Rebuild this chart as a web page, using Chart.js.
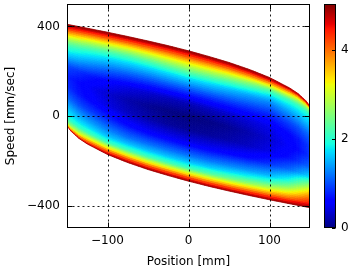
<!DOCTYPE html>
<html><head><meta charset="utf-8">
<script src="https://cdn.jsdelivr.net/npm/chart.js@4/dist/chart.umd.min.js"></script>
<style>html,body{margin:0;padding:0;background:#fff;}</style>
</head><body>
<canvas id="c" width="352" height="273"></canvas>
<script>
// Positions (mm) of the mesh columns
const positions = [-150,-145,-135,-125,-100,-75,-50,-25,0,25,50,75,100,125,135,145,150];
// Upper / lower edge of the coloured region (mm/sec) at each position
const upperSpeed = [409,406,399,392,374,355,335,314,291,266,239,208,172,125,101,68,44];
const lowerSpeed = [-44,-68,-101,-125,-172,-208,-239,-266,-291,-314,-335,-355,-374,-392,-399,-406,-409];
// Fractional height between lower (0) and upper (1) edge for mesh rows
const sLevels = [0,0.02,0.05,0.1,0.15,0.2,0.3,0.4,0.5,0.6,0.7,0.8,0.85,0.9,0.95,0.98,1];
// Colour values (one row per position, one value per sLevel)
const fieldValues = [
  [5,3.4,2.4,1.9,1.7,1.5,1.1,0.87,0.8,1.0,1.6,2.2,2.7,3.4,4.2,4.68,5],
  [5,3.7,2.7,2.0,1.75,1.55,1.1,0.82,0.75,0.95,1.55,2.15,2.65,3.35,4.15,4.66,5],
  [5,4.0,3.0,2.1,1.75,1.5,1.02,0.72,0.65,0.85,1.45,2.05,2.55,3.25,4.1,4.63,5],
  [5,4.2,3.3,2.15,1.75,1.45,0.95,0.64,0.56,0.77,1.35,1.95,2.45,3.15,4.05,4.62,5],
  [5,4.4,3.5,2.15,1.6,1.3,0.8,0.45,0.36,0.6,1.15,1.8,2.3,3.05,4.0,4.6,5],
  [5,4.5,3.55,2.2,1.6,1.2,0.65,0.29,0.2,0.45,1.05,1.75,2.25,3.0,3.95,4.58,5],
  [5,4.5,3.55,2.2,1.6,1.2,0.55,0.19,0.09,0.35,1.0,1.75,2.3,3.05,3.98,4.59,5],
  [5,4.5,3.58,2.2,1.6,1.2,0.52,0.12,0.02,0.28,1.0,1.8,2.4,3.12,4.0,4.6,5],
  [5,4.5,3.6,2.2,1.6,1.2,0.5,0.1,0,0.25,0.98,1.82,2.45,3.15,4.02,4.6,5],
  [5,4.5,3.62,2.3,1.65,1.22,0.52,0.12,0.02,0.28,0.95,1.75,2.35,3.08,3.97,4.59,5],
  [5,4.52,3.7,2.45,1.75,1.3,0.58,0.19,0.09,0.33,0.92,1.62,2.18,2.92,3.9,4.56,5],
  [5,4.55,3.8,2.65,1.9,1.4,0.67,0.29,0.2,0.4,0.86,1.46,1.98,2.68,3.78,4.52,5],
  [5,4.6,3.9,2.9,2.1,1.55,0.85,0.45,0.36,0.47,0.8,1.3,1.7,2.3,3.55,4.45,5],
  [5,4.65,4.05,3.3,2.6,2.0,1.15,0.7,0.56,0.64,0.95,1.45,1.75,2.15,3.3,4.2,5],
  [5,4.7,4.2,3.55,2.95,2.35,1.35,0.85,0.65,0.72,1.02,1.5,1.75,2.1,3.0,4.0,5],
  [5,4.75,4.35,3.85,3.3,2.7,1.6,1.05,0.8,0.85,1.1,1.55,1.75,2.0,2.7,3.7,5],
  [5,4.8,4.45,4.0,3.55,3.0,1.75,1.15,0.9,0.92,1.1,1.5,1.7,1.9,2.4,3.4,5]
];
const xTicks = [-100, 0, 100];
const yTicks = [-400, 0, 400];
const cbTicks = [0, 2, 4];
const cbMin = 0, cbMax = 5.04;

function tab(xs, ys, t){
  for (let k = 0; k < xs.length - 1; k++){
    if (t <= xs[k+1]) return ys[k] + (ys[k+1]-ys[k]) * (t - xs[k]) / (xs[k+1]-xs[k]);
  }
  return ys[ys.length-1];
}
function jet(v){
  let t = (v - cbMin) / (cbMax - cbMin);
  t = Math.max(0, Math.min(1, t));
  const r = tab([0,0.35,0.66,0.89,1],[0,0,1,1,0.5],t);
  const g = tab([0,0.125,0.375,0.64,0.91,1],[0,0,1,1,0,0],t);
  const b = tab([0,0.11,0.34,0.65,1],[0.5,1,1,0,0],t);
  return 'rgb(' + Math.round(r*255) + ',' + Math.round(g*255) + ',' + Math.round(b*255) + ')';
}
const fmt = v => (v < 0 ? '\u2212' + Math.abs(v) : String(v));
const FONT = {family: 'DejaVu Sans', size: 12};
const noPad = s => { s.paddingTop = 0; s.paddingBottom = 0; s.paddingLeft = 0; s.paddingRight = 0; };

const fieldPlugin = {
  id: 'field',
  beforeDatasetsDraw(chart){
    const {ctx, chartArea: a, scales: {x, y}} = chart;
    ctx.save();
    ctx.beginPath(); ctx.rect(a.left, a.top, a.right - a.left, a.bottom - a.top); ctx.clip();
    ctx.lineWidth = 0.8;
    const lerp = (p, q, t) => p + (q - p) * t;
    for (let i = 0; i < positions.length - 1; i++){
      const px0 = x.getPixelForValue(positions[i]), px1 = x.getPixelForValue(positions[i+1]);
      const nx = Math.max(1, Math.ceil(Math.abs(px1 - px0) / 2));
      for (let j = 0; j < sLevels.length - 1; j++){
        const span = Math.max(upperSpeed[i] - lowerSpeed[i], upperSpeed[i+1] - lowerSpeed[i+1]);
        const hpx = Math.abs(y.getPixelForValue(0) - y.getPixelForValue(span * (sLevels[j+1] - sLevels[j])));
        const ns = Math.max(1, Math.ceil(hpx / 2));
        const f00 = fieldValues[i][j], f10 = fieldValues[i+1][j], f01 = fieldValues[i][j+1], f11 = fieldValues[i+1][j+1];
        for (let a1 = 0; a1 < nx; a1++){
          const u0 = a1 / nx, u1 = (a1 + 1) / nx, uc = (u0 + u1) / 2;
          const xa = lerp(positions[i], positions[i+1], u0), xb = lerp(positions[i], positions[i+1], u1);
          const loA = lerp(lowerSpeed[i], lowerSpeed[i+1], u0), upA = lerp(upperSpeed[i], upperSpeed[i+1], u0);
          const loB = lerp(lowerSpeed[i], lowerSpeed[i+1], u1), upB = lerp(upperSpeed[i], upperSpeed[i+1], u1);
          for (let b1 = 0; b1 < ns; b1++){
            const w0 = b1 / ns, w1 = (b1 + 1) / ns, wc = (w0 + w1) / 2;
            const s0 = lerp(sLevels[j], sLevels[j+1], w0), s1 = lerp(sLevels[j], sLevels[j+1], w1);
            const val = lerp(lerp(f00, f10, uc), lerp(f01, f11, uc), wc);
            const col = jet(val);
            ctx.fillStyle = col; ctx.strokeStyle = col;
            ctx.beginPath();
            ctx.moveTo(x.getPixelForValue(xa), y.getPixelForValue(loA + s0 * (upA - loA)));
            ctx.lineTo(x.getPixelForValue(xb), y.getPixelForValue(loB + s0 * (upB - loB)));
            ctx.lineTo(x.getPixelForValue(xb), y.getPixelForValue(loB + s1 * (upB - loB)));
            ctx.lineTo(x.getPixelForValue(xa), y.getPixelForValue(loA + s1 * (upA - loA)));
            ctx.closePath();
            ctx.fill(); ctx.stroke();
          }
        }
      }
    }
    ctx.restore();
  },
  afterDatasetsDraw(chart){
    const {ctx, chartArea: a, scales: {x, y, cb}} = chart;
    const L = Math.round(a.left) + 0.5, R = Math.round(a.right) - 0.5, T = Math.round(a.top) + 0.5, B = Math.round(a.bottom) - 0.5;
    ctx.save();
    // dotted grid
    ctx.strokeStyle = 'rgba(0,0,0,0.9)'; ctx.lineWidth = 1; ctx.setLineDash([2, 3]);
    xTicks.forEach(v => { const p = Math.round(x.getPixelForValue(v)) + 0.5; ctx.beginPath(); ctx.moveTo(p, T); ctx.lineTo(p, B); ctx.stroke(); });
    yTicks.forEach(v => { const p = Math.round(y.getPixelForValue(v)) + 0.5; ctx.beginPath(); ctx.moveTo(L, p); ctx.lineTo(R, p); ctx.stroke(); });
    ctx.setLineDash([]);
    ctx.strokeStyle = '#000';
    // inward ticks
    xTicks.forEach(v => { const p = Math.round(x.getPixelForValue(v)) + 0.5; ctx.beginPath(); ctx.moveTo(p, B); ctx.lineTo(p, B - 5); ctx.moveTo(p, T); ctx.lineTo(p, T + 5); ctx.stroke(); });
    yTicks.forEach(v => { const p = Math.round(y.getPixelForValue(v)) + 0.5; ctx.beginPath(); ctx.moveTo(L, p); ctx.lineTo(L + 5, p); ctx.moveTo(R, p); ctx.lineTo(R - 5, p); ctx.stroke(); });
    // frame
    ctx.strokeRect(L, T, R - L, B - T);
    // colour bar
    const cx0 = Math.round(a.right) + 14, cx1 = cx0 + 12;
    const top = Math.round(cb.getPixelForValue(cbMax)), bot = Math.round(cb.getPixelForValue(cbMin));
    for (let py = top; py < bot; py++){
      ctx.fillStyle = jet(cb.getValueForPixel(py + 0.5));
      ctx.fillRect(cx0, py, cx1 - cx0, 1);
    }
    ctx.strokeRect(cx0 + 0.5, top + 0.5, cx1 - cx0 - 1, bot - top - 1);
    cbTicks.forEach(v => { const p = Math.round(cb.getPixelForValue(v)) + 0.5; ctx.beginPath(); ctx.moveTo(cx1 - 0.5, p); ctx.lineTo(cx1 - 4, p); ctx.stroke(); });
    ctx.restore();
  }
};

new Chart(document.getElementById('c'), {
  type: 'scatter',
  data: {datasets: [{data: [], pointRadius: 0}]},
  plugins: [fieldPlugin],
  options: {
    responsive: false, animation: false, devicePixelRatio: 1,
    layout: {padding: {left: 0, right: 0, top: 4, bottom: 0}},
    plugins: {legend: {display: false}, tooltip: {enabled: false}},
    scales: {
      x: {
        type: 'linear', position: 'bottom', min: -150, max: 150,
        afterBuildTicks: s => { s.ticks = xTicks.map(v => ({value: v})); },
        afterFit: s => { s.height = 45; noPad(s); },
        grid: {display: false, drawTicks: false}, border: {display: false},
        ticks: {color: '#000', font: FONT, padding: 6, maxRotation: 0, callback: v => fmt(v)},
        title: {display: true, text: 'Position [mm]', color: '#000', font: FONT, padding: {top: 0, bottom: 4}}
      },
      y: {
        type: 'linear', position: 'left', min: -500, max: 500,
        afterBuildTicks: s => { s.ticks = yTicks.map(v => ({value: v})); },
        afterFit: s => { s.width = 67; noPad(s); },
        grid: {display: false, drawTicks: false}, border: {display: false},
        ticks: {color: '#000', font: FONT, padding: 7, callback: v => fmt(v)},
        title: {display: true, text: 'Speed [mm/sec]', color: '#000', font: FONT, padding: {top: 4, bottom: 0}}
      },
      cb: {
        type: 'linear', axis: 'y', position: 'right', min: cbMin, max: cbMax,
        afterBuildTicks: s => { s.ticks = cbTicks.map(v => ({value: v})); },
        afterFit: s => { s.width = 42; noPad(s); },
        grid: {display: false, drawTicks: false}, border: {display: false},
        ticks: {color: '#000', font: FONT, padding: 31, callback: v => fmt(v)}
      }
    }
  }
});
</script>
</body></html>
